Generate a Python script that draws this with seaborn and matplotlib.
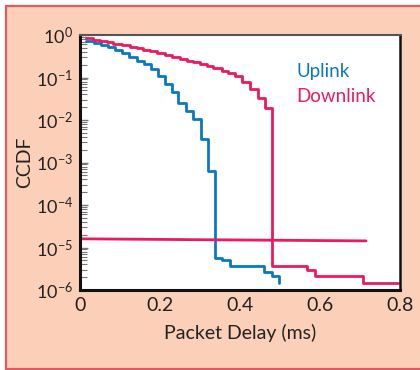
import numpy as np
import pandas as pd
import matplotlib
matplotlib.use("Agg")
import matplotlib.pyplot as plt
import seaborn as sns
from matplotlib.patches import Rectangle
from matplotlib.ticker import LogLocator, FixedLocator

# ---- data ----
uplink_x = [0.015, 0.035, 0.053, 0.070, 0.088, 0.105, 0.123, 0.142, 0.160, 0.178,
            0.195, 0.212, 0.229, 0.246, 0.265, 0.283, 0.302, 0.321, 0.338, 0.355,
            0.375, 0.460, 0.479, 0.498]
uplink_log = [-0.13, -0.19, -0.24, -0.29, -0.35, -0.43, -0.52, -0.61, -0.69, -0.80,
              -0.96, -1.15, -1.33, -1.60, -1.78, -1.98, -2.45, -3.20, -5.24, -5.30,
              -5.44, -5.57, -5.66, -5.83]

downlink_x = [0.015, 0.033, 0.050, 0.067, 0.083, 0.104, 0.125, 0.142, 0.158, 0.175,
              0.192, 0.212, 0.229, 0.250, 0.267, 0.283, 0.300, 0.317, 0.333, 0.354,
              0.371, 0.388, 0.404, 0.425, 0.446, 0.4625, 0.481, 0.567, 0.588, 0.708,
              0.796]
downlink_log = [-0.08, -0.12, -0.14, -0.17, -0.20, -0.235, -0.275, -0.31, -0.35, -0.376,
                -0.42, -0.47, -0.51, -0.57, -0.61, -0.64, -0.69, -0.73, -0.78, -0.84,
                -0.90, -0.965, -1.10, -1.28, -1.49, -1.72, -5.44, -5.53, -5.67, -5.84,
                -5.84]

floor_x = [0.0, 0.715]
floor_y = [1.60e-5, 1.43e-5]

xticks = [0, 0.2, 0.4, 0.6, 0.8]
xtick_labels = ["0", "0.2", "0.4", "0.6", "0.8"]

BLUE = "#0a78c2"
RED = "#ec1a5c"
SALMON = "#fbcfb8"
BORDER = "#e05a64"

sns.set_theme(style="white")
plt.rcParams["font.family"] = ["Lato", "DejaVu Sans"]
plt.rcParams["mathtext.default"] = "regular"

fig = plt.figure(figsize=(4.2, 3.7), dpi=100)
fig.patch.set_facecolor("white")
bg = Rectangle((6 / 420, 1.5 / 370), 1.2, 1 - 7.5 / 370,
               transform=fig.transFigure, facecolor=SALMON,
               edgecolor=BORDER, linewidth=1.6, zorder=-10)
fig.patches.append(bg)

ax = fig.add_axes([80 / 420, 1 - 290 / 370, 320 / 420, 255 / 370])
ax.set_zorder(5)
ax.set_facecolor("white")

up = pd.DataFrame({"x": uplink_x, "y": np.power(10.0, uplink_log)})
dn = pd.DataFrame({"x": downlink_x, "y": np.power(10.0, downlink_log)})
fl = pd.DataFrame({"x": floor_x, "y": floor_y})

sns.lineplot(data=up, x="x", y="y", ax=ax, color=BLUE, lw=2.0,
             drawstyle="steps-post", estimator=None, sort=False)
sns.lineplot(data=dn, x="x", y="y", ax=ax, color=RED, lw=2.0,
             drawstyle="steps-post", estimator=None, sort=False)
sns.lineplot(data=fl, x="x", y="y", ax=ax, color=RED, lw=2.0,
             estimator=None, sort=False)

ax.set_yscale("log")
ax.set_xlim(0, 0.8)
ax.set_ylim(1e-6, 1)
ax.xaxis.set_major_locator(FixedLocator(xticks))
ax.set_xticklabels(xtick_labels)
ax.yaxis.set_major_locator(LogLocator(base=10, numticks=10))
ax.yaxis.set_minor_locator(LogLocator(base=10, subs=np.arange(2, 10), numticks=10))

ax.tick_params(axis="x", which="both", direction="in", color="#777777",
               labelsize=14, labelcolor="#222222")
ax.tick_params(axis="y", which="both", direction="in", color="#777777",
               labelsize=13, labelcolor="#222222")
ax.tick_params(axis="x", which="major", length=6, width=1, pad=5)
ax.tick_params(axis="y", which="major", length=6, width=1, pad=5, left=True)
ax.tick_params(axis="y", which="minor", length=5, width=0.8, left=True)

for side in ["left", "bottom"]:
    ax.spines[side].set_color("#111111")
    ax.spines[side].set_linewidth(2.2)
ax.spines["right"].set_color("#111111")
ax.spines["right"].set_linewidth(1.8)
ax.spines["top"].set_color("#555555")
ax.spines["top"].set_linewidth(1.5)

ax.set_xlabel("Packet Delay (ms)", fontsize=14, color="#222222", labelpad=7)
ax.set_ylabel("CCDF", fontsize=14, color="#222222")
ax.yaxis.set_label_coords(-0.148, 0.5)

ax.text(0.675, 0.855, "Uplink", transform=ax.transAxes, color=BLUE, fontsize=13.5,
        va="center", ha="left")
ax.text(0.675, 0.757, "Downlink", transform=ax.transAxes, color=RED, fontsize=13.5,
        va="center", ha="left")

fig.savefig("out.png", dpi=100, facecolor=fig.get_facecolor())
